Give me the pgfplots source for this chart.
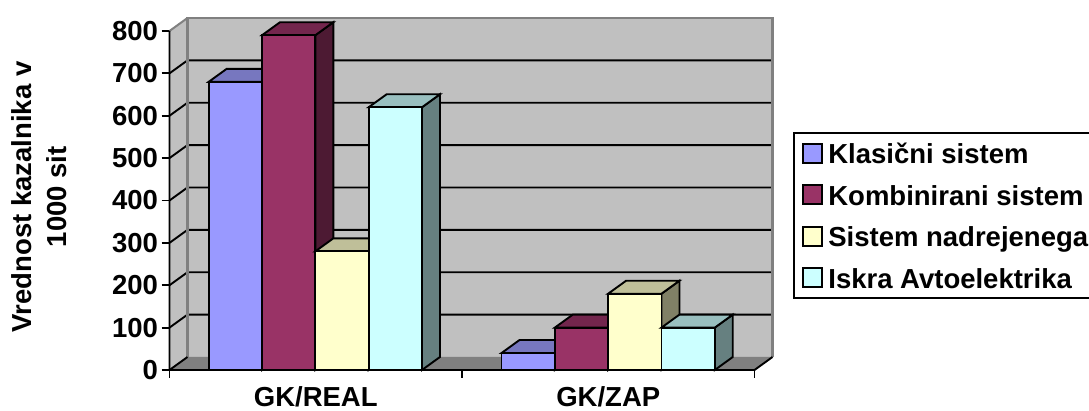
\documentclass[border=0pt]{standalone}
\usepackage{pgfplots}
\usepackage{fontspec}
\setmainfont{Liberation Sans}
\pgfplotsset{compat=1.18}

\definecolor{wallgray}{HTML}{C0C0C0}
\definecolor{floorgray}{HTML}{808080}
\definecolor{barblue}{HTML}{9999FF}
\definecolor{topblue}{HTML}{7777BF}
\definecolor{sideblue}{HTML}{4D4D80}
\definecolor{barplum}{HTML}{993366}
\definecolor{topplum}{HTML}{73264D}
\definecolor{sideplum}{HTML}{4D1A33}
\definecolor{baryellow}{HTML}{FFFFCC}
\definecolor{topyellow}{HTML}{BFBF99}
\definecolor{sideyellow}{HTML}{808066}
\definecolor{barcyan}{HTML}{CCFFFF}
\definecolor{topcyan}{HTML}{99BFBF}
\definecolor{sidecyan}{HTML}{668080}

% Depth of the 3D box, in data units of the two axes
\def\dx{0.0615}
\def\dy{30.7}
% Width of one bar, in category units
\def\bw{0.1823}

\newcommand{\chartfont}{\fontsize{27.5}{35}\selectfont\bfseries}

% One bar with its side, top and front faces:
% #1 plot options, #2 left edge, #3 value, #4 front, #5 top, #6 side colour
\newcommand{\boxbar}[6]{%
  \pgfmathsetmacro{\xa}{#2}%
  \pgfmathsetmacro{\xb}{#2+\bw}%
  \pgfmathsetmacro{\xc}{#2+\bw+\dx}%
  \pgfmathsetmacro{\xd}{#2+\dx}%
  \pgfmathsetmacro{\yb}{#3+\dy}%
  \pgfmathsetmacro{\zb}{\dy}%
  \addplot[fill=#6,forget plot] coordinates {(\xb,0)(\xc,\zb)(\xc,\yb)(\xb,#3)} --cycle;
  \addplot[fill=#5,forget plot] coordinates {(\xa,#3)(\xb,#3)(\xc,\yb)(\xd,\yb)} --cycle;
  \addplot[fill=#4,#1] coordinates {(\xa,0)(\xb,0)(\xb,#3)(\xa,#3)} --cycle;
}

\begin{document}
\begin{tikzpicture}[x=1pt,y=1pt]
\path[use as bounding box] (0,0) rectangle (1089,411);
\begin{axis}[
  at={(169.5pt,41pt)}, anchor=south west,
  scale only axis, width=603pt, height=352pt,
  xmin=0, xmax=2.0615, ymin=0, ymax=830.7,
  clip=false,
  axis line style={draw=none},
  tick align=outside, major tick length=8pt,
  tick style={draw=black,line width=1.9pt},
  xtick={0,1,2}, xticklabels={GK/REAL,GK/ZAP,{}},
  x tick label style={xshift=146.25pt,yshift=-5pt,anchor=north},
  ytick={0,100,...,800},
  xtick pos=bottom, ytick pos=left,
  tick label style={font=\chartfont},
  y tick label style={xshift=0pt},
  /pgf/number format/assume math mode=true,
  /pgf/number format/1000 sep={},
  ylabel={Vrednost kazalnika v\\1000 sit},
  ylabel style={font=\chartfont,align=center,at={(axis description cs:-0.2166,0.492)},anchor=center},
  every axis plot/.append style={draw=black,line width=1.9pt,line join=miter,no markers},
  legend image code/.code={\draw[#1,line width=1.9pt] (0pt,-9.5pt) rectangle (19pt,9.5pt);\path (22.5pt,0pt);},
  legend cell align=left,
  legend style={
    at={(1.0340,0.676)}, anchor=north west,
    draw=black, line width=1.9pt, font=\chartfont,
    inner xsep=8pt, inner ysep=4pt,
    row sep=9pt,
    nodes={text height=24pt,text depth=2.5pt,inner ysep=3pt,inner xsep=2pt},
  },
]
% Walls and floor of the box
\addplot[fill=wallgray,draw=none,forget plot] coordinates {(\dx,\dy)(2.0615,\dy)(2.0615,830.7)(\dx,830.7)} --cycle;
\addplot[fill=wallgray,draw=none,forget plot] coordinates {(0,0)(\dx,\dy)(\dx,830.7)(0,800)} --cycle;
\addplot[fill=floorgray,draw=none,forget plot] coordinates {(0,0)(2,0)(2.0615,\dy)(\dx,\dy)} --cycle;

% Grid lines on the back wall and the side wall
\pgfplotsinvokeforeach{100,200,300,400,500,600,700}{
  \pgfmathsetmacro{\yg}{#1+\dy}
  \addplot[forget plot] coordinates {(0,#1)(\dx,\yg)(2.0615,\yg)};
}
% Outline of the walls
\addplot[draw=floorgray,line width=2.2pt,forget plot] coordinates {(\dx,\dy)(\dx,830.7)(2.0615,830.7)(2.0615,\dy)};
\addplot[draw=floorgray,line width=2pt,forget plot] coordinates {(0,800)(\dx,830.7)};
% Front edges of the box
\addplot[forget plot] coordinates {(0,800)(0,0)(2,0)(2.0615,\dy)};
\addplot[forget plot] coordinates {(0,0)(\dx,\dy)};

% Bars of the first category
\boxbar{}{0.1340}{680}{barblue}{topblue}{sideblue}
\addlegendentry{Klasični sistem}
\boxbar{}{0.3163}{790}{barplum}{topplum}{sideplum}
\addlegendentry{Kombinirani sistem}
\boxbar{}{0.4986}{280}{baryellow}{topyellow}{sideyellow}
\addlegendentry{Sistem nadrejenega\hspace{10pt}\mbox{}}
\boxbar{}{0.6809}{620}{barcyan}{topcyan}{sidecyan}
\addlegendentry{Iskra Avtoelektrika}
% Bars of the second category
\boxbar{forget plot}{1.1350}{40}{barblue}{topblue}{sideblue}
\boxbar{forget plot}{1.3173}{100}{barplum}{topplum}{sideplum}
\boxbar{forget plot}{1.4996}{180}{baryellow}{topyellow}{sideyellow}
\boxbar{forget plot}{1.6819}{100}{barcyan}{topcyan}{sidecyan}
\end{axis}
\end{tikzpicture}
\end{document}
